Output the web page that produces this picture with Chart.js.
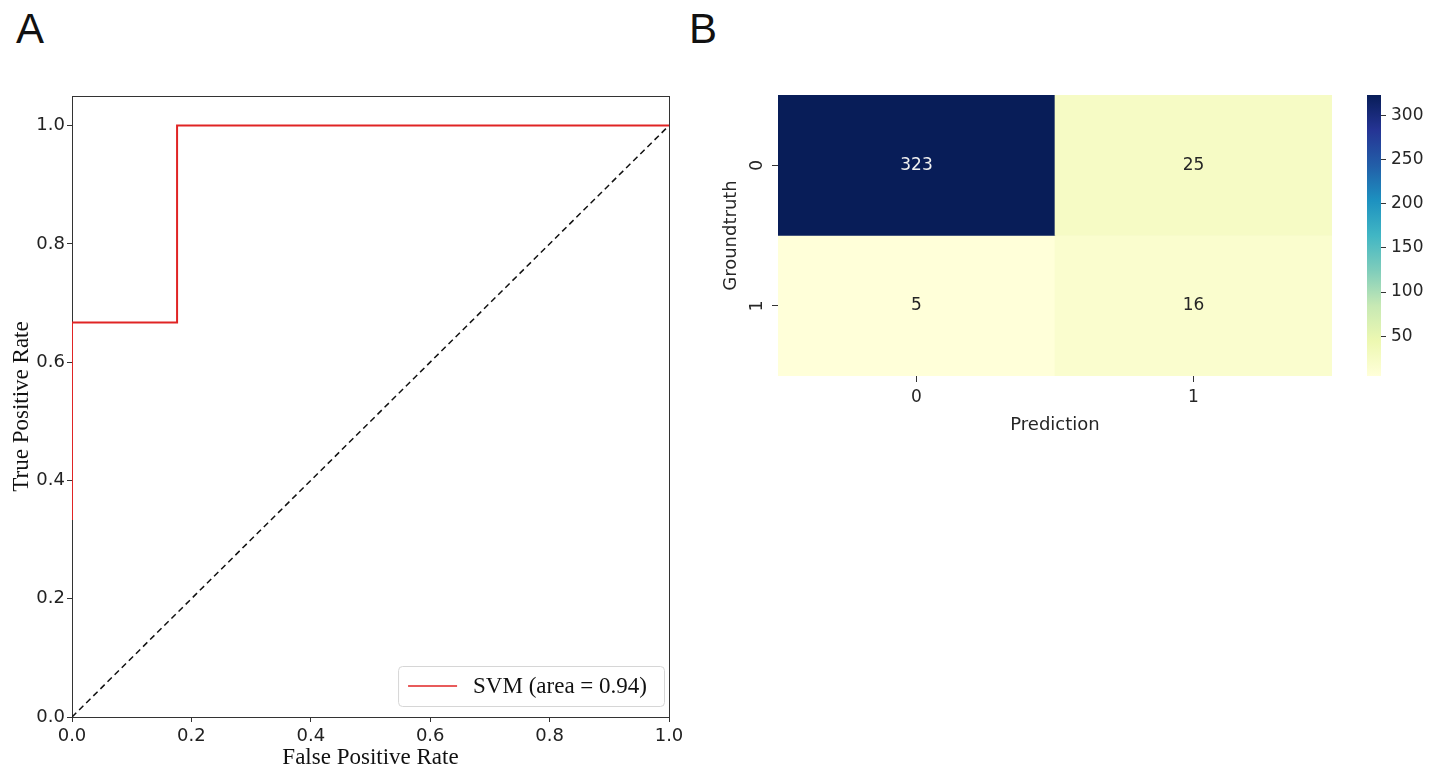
<!DOCTYPE html>
<html>
<head>
<meta charset="utf-8">
<script src="https://cdn.jsdelivr.net/npm/chart.js@4.4.1/dist/chart.umd.min.js"></script>
<style>
  html, body { margin:0; padding:0; background:#fff; width:1446px; height:771px; overflow:hidden; }
  .abs { position:absolute; }
  .panel { font-family: "Liberation Sans", Arial, sans-serif; font-size:42px; line-height:normal; color:#111; }
</style>
</head>
<body>
<div class="abs panel" style="left:16px; top:5px;">A</div>
<div class="abs panel" style="left:689px; top:5px;">B</div>
<div class="abs" style="left:0; top:0; width:700px; height:771px;"><canvas id="roc"></canvas></div>
<div class="abs" style="left:700px; top:0; width:660px; height:460px;"><canvas id="heat"></canvas></div>
<div class="abs" style="left:1340px; top:0; width:106px; height:460px;"><canvas id="cbar"></canvas></div>
<script>
// ---- ROC data ----
const rocFpr = [0, 0, 0.176, 0.176, 1];
const rocTpr = [0.333, 0.667, 0.667, 1, 1];
const rocLabel = 'SVM (area = 0.94)';
const chanceX = [0, 1];
const chanceY = [0, 1];
const rocTicks = [0, 0.2, 0.4, 0.6, 0.8, 1.0];

// ---- Confusion matrix data ----
const predLabels = ['0', '1'];
const truthLabels = ['0', '1'];
const row0 = [323, 25];
const row1 = [5, 16];
const cbarTicks = [50, 100, 150, 200, 250, 300];

const matrix = [row0, row1];
const vmin = Math.min(...row0, ...row1);
const vmax = Math.max(...row0, ...row1);

// YlGnBu colormap
const ylgnbu = ['#ffffd9','#edf8b1','#c7e9b4','#7fcdbb','#41b6c4','#1d91c0','#225ea8','#253494','#081d58'];
function hex2rgb(h){ return [parseInt(h.slice(1,3),16), parseInt(h.slice(3,5),16), parseInt(h.slice(5,7),16)]; }
function cmap(v){
  let t = (v - vmin) / (vmax - vmin);
  t = Math.max(0, Math.min(1, t));
  const n = ylgnbu.length - 1;
  const i = Math.min(n - 1, Math.floor(t * n));
  const f = t * n - i;
  const a = hex2rgb(ylgnbu[i]), b = hex2rgb(ylgnbu[i+1]);
  const c = a.map((x, k) => Math.round(x + (b[k] - x) * f));
  return `rgb(${c[0]},${c[1]},${c[2]})`;
}

const sansFam = '"DejaVu Sans", sans-serif';
const rocTickFont = { family: sansFam, size: 18 };
const serifFont = { family: '"Liberation Serif", "Times New Roman", serif', size: 23 };
const hmTickFont = { family: sansFam, size: 17 };
const hmTitleFont = { family: sansFam, size: 18 };

// ---- ROC chart ----
const framePlugin = {
  id: 'frame',
  beforeDatasetsDraw(chart) {
    const { ctx, chartArea: a } = chart;
    ctx.save();
    ctx.strokeStyle = '#333';
    ctx.lineWidth = 1;
    ctx.strokeRect(Math.round(a.left) + 0.5, Math.round(a.top) + 0.5, Math.round(a.right - a.left), Math.round(a.bottom - a.top));
    ctx.restore();
  }
};
const rocLegendPlugin = {
  id: 'rocLegend',
  afterDraw(chart) {
    const { ctx, chartArea: a } = chart;
    const ds = chart.data.datasets[0];
    ctx.save();
    ctx.font = `${serifFont.size}px ${serifFont.family}`;
    const tw = ctx.measureText(ds.label).width;
    const w = tw + 92, h = 40;
    const x = a.right - 5 - w, y = a.bottom - 11 - h;
    ctx.fillStyle = 'rgba(255,255,255,0.85)';
    ctx.strokeStyle = '#d6d6d6';
    ctx.lineWidth = 1;
    ctx.beginPath();
    ctx.roundRect(x + 0.5, y + 0.5, w, h, 4);
    ctx.fill(); ctx.stroke();
    ctx.strokeStyle = ds.borderColor;
    ctx.lineWidth = 1.5;
    ctx.beginPath();
    ctx.moveTo(x + 10, y + h / 2);
    ctx.lineTo(x + 59, y + h / 2);
    ctx.stroke();
    ctx.fillStyle = '#111';
    ctx.textBaseline = 'middle';
    ctx.fillText(ds.label, x + 75, y + h / 2 + 1);
    ctx.restore();
  }
};

new Chart(document.getElementById('roc'), {
  type: 'scatter',
  data: {
    datasets: [
      {
        label: rocLabel,
        data: rocFpr.map((x, i) => ({ x, y: rocTpr[i] })),
        showLine: true, borderColor: '#e02424', borderWidth: 2, pointRadius: 0, fill: false
      },
      {
        label: 'chance',
        data: chanceX.map((x, i) => ({ x, y: chanceY[i] })),
        showLine: true, borderColor: '#111', borderWidth: 1.5, borderDash: [6, 4], pointRadius: 0, fill: false
      }
    ]
  },
  options: {
    responsive: true, maintainAspectRatio: false, animation: false,
    layout: { padding: { left: 0, top: 96, right: 31, bottom: 0 } },
    plugins: { legend: { display: false }, tooltip: { enabled: false } },
    scales: {
      x: {
        type: 'linear', min: 0, max: 1,
        afterBuildTicks: s => { s.ticks = rocTicks.map(v => ({ value: v })); },
        afterFit: s => { s.height = 54; },
        ticks: { callback: v => Number(v).toFixed(1), font: rocTickFont, color: '#222', padding: 4, maxRotation: 0 },
        grid: { drawOnChartArea: false, tickLength: 5, color: '#333' },
        border: { color: '#333' },
        title: { display: true, text: 'False Positive Rate', font: serifFont, color: '#111', padding: { top: 0, bottom: -1 } }
      },
      y: {
        type: 'linear', min: 0, max: 1.05,
        afterBuildTicks: s => { s.ticks = rocTicks.map(v => ({ value: v })); },
        afterFit: s => { s.width = 72; },
        ticks: { callback: v => Number(v).toFixed(1), font: rocTickFont, color: '#222', padding: 2 },
        grid: { drawOnChartArea: false, tickLength: 5, color: '#333' },
        border: { color: '#333' },
        title: { display: true, text: 'True Positive Rate', font: serifFont, color: '#111', padding: { top: 8, bottom: 0 } }
      }
    }
  },
  plugins: [framePlugin, rocLegendPlugin]
});

// ---- Heatmap ----
const annotPlugin = {
  id: 'annot',
  afterDatasetsDraw(chart) {
    const { ctx } = chart;
    const xs = chart.scales.x, ys = chart.scales.y;
    ctx.save();
    ctx.font = `${hmTickFont.size}px ${hmTickFont.family}`;
    ctx.textAlign = 'center';
    ctx.textBaseline = 'middle';
    matrix.forEach((row, r) => {
      row.forEach((v, c) => {
        const t = (v - vmin) / (vmax - vmin);
        ctx.fillStyle = t > 0.5 ? '#f0f0f0' : '#262626';
        ctx.fillText(String(v), xs.getPixelForValue(c), ys.getPixelForValue(r + 0.5));
      });
    });
    ctx.restore();
  }
};

new Chart(document.getElementById('heat'), {
  type: 'bar',
  data: {
    labels: predLabels,
    datasets: matrix.map((row, r) => ({
      label: 'row ' + truthLabels[r],
      data: row.map(() => [r, r + 1]),
      backgroundColor: row.map(v => cmap(v)),
      borderWidth: 0,
      barPercentage: 1.0,
      categoryPercentage: 1.0,
      grouped: false
    }))
  },
  options: {
    responsive: true, maintainAspectRatio: false, animation: false,
    layout: { padding: { left: 0, top: 95, right: 28, bottom: 24 } },
    plugins: { legend: { display: false }, tooltip: { enabled: false } },
    scales: {
      x: {
        type: 'category',
        afterFit: s => { s.height = 60; },
        ticks: { font: hmTickFont, color: '#262626', padding: 5, maxRotation: 0 },
        grid: { drawOnChartArea: false, tickLength: 6, color: '#333', offset: false },
        border: { display: false },
        title: { display: true, text: 'Prediction', font: hmTitleFont, color: '#262626', padding: { top: 4, bottom: 0 } }
      },
      y: {
        type: 'linear', min: 0, max: 2, reverse: true,
        afterBuildTicks: s => { s.ticks = truthLabels.map((l, i) => ({ value: i + 0.5 })); },
        afterFit: s => { s.width = 78; },
        ticks: { callback: v => truthLabels[Math.floor(v)], font: hmTickFont, color: '#262626', padding: 9, minRotation: 90, maxRotation: 90, crossAlign: 'center' },
        grid: { drawOnChartArea: false, tickLength: 6, color: '#333' },
        border: { display: false },
        title: { display: true, text: 'Groundtruth', font: hmTitleFont, color: '#262626', padding: { top: 21, bottom: 0 } }
      }
    }
  },
  plugins: [annotPlugin]
});

// ---- Colorbar ----
new Chart(document.getElementById('cbar'), {
  type: 'bar',
  data: {
    labels: [''],
    datasets: [{
      label: 'colorbar',
      data: [[vmin, vmax]],
      backgroundColor: (ctx) => {
        const chart = ctx.chart;
        const a = chart.chartArea;
        if (!a) return ylgnbu[0];
        const ys = chart.scales.y;
        const g = chart.ctx.createLinearGradient(0, ys.getPixelForValue(vmin), 0, ys.getPixelForValue(vmax));
        ylgnbu.forEach((c, i) => g.addColorStop(i / (ylgnbu.length - 1), c));
        return g;
      },
      borderWidth: 0,
      barPercentage: 1.0,
      categoryPercentage: 1.0
    }]
  },
  options: {
    responsive: true, maintainAspectRatio: false, animation: false,
    layout: { padding: { left: 27, top: 95, right: 0, bottom: 84 } },
    plugins: { legend: { display: false }, tooltip: { enabled: false } },
    scales: {
      x: { display: false },
      y: {
        type: 'linear', position: 'right', min: vmin, max: vmax,
        afterBuildTicks: s => { s.ticks = cbarTicks.map(v => ({ value: v })); },
        afterFit: s => { s.width = 65; },
        ticks: { font: { family: sansFam, size: 17 }, color: '#262626', padding: 5 },
        grid: { drawOnChartArea: false, tickLength: 5, color: '#333' },
        border: { display: false }
      }
    }
  }
});
</script>
</body>
</html>
